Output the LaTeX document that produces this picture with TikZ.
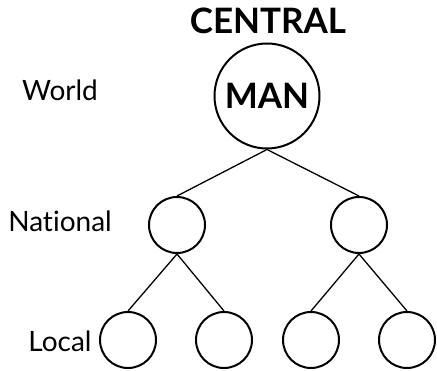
\documentclass[tikz,border=0pt]{standalone}
\usepackage{fontspec}
\setmainfont{Lato}[Ligatures=NoCommon]
\begin{document}
\begin{tikzpicture}[x=1pt,y=-1pt,
  ring/.style={circle,draw,line width=2pt,inner sep=0pt},
  link/.style={line width=1.3pt},
  lbl/.style={font=\fontsize{28}{30}\selectfont},
  bold/.style={font=\fontsize{35}{38}\selectfont\bfseries}]
\useasboundingbox (0,0) rectangle (437,371);
\node[bold] (central) at (268,21) {CENTRAL};
\node[ring,minimum size=105pt,bold] (top) at (267,96) {MAN};
\node[ring,minimum size=56pt] (n1) at (177,225) {};
\node[ring,minimum size=56pt] (n2) at (359,225) {};
\node[ring,minimum size=56pt] (l1) at (128,340) {};
\node[ring,minimum size=56pt] (l2) at (224,340) {};
\node[ring,minimum size=56pt] (l3) at (311,340) {};
\node[ring,minimum size=56pt] (l4) at (407,340) {};
\node[lbl] (world) at (60,90) {World};
\node[lbl] (national) at (60,221) {National};
\node[lbl] (local) at (60,341) {Local};
\draw[link] (top.south) -- (n1.north);
\draw[link] (top.south) -- (n2.north);
\draw[link] (n1.south) -- (l1.north);
\draw[link] (n1.south) -- (l2.north);
\draw[link] (n2.south) -- (l3.north);
\draw[link] (n2.south) -- (l4.north);
\end{tikzpicture}
\end{document}
